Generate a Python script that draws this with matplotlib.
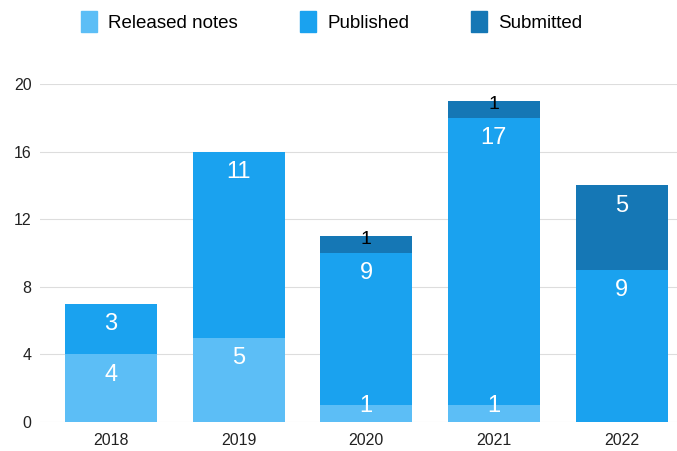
import numpy as np
import matplotlib.pyplot as plt
from matplotlib.patches import Patch

plt.rcParams['font.family'] = ['Liberation Sans', 'DejaVu Sans']

years = ['2018', '2019', '2020', '2021', '2022']
released = [4, 5, 1, 1, 0]
published = [3, 11, 9, 17, 9]
submitted = [0, 0, 1, 1, 5]

c_rel = '#5CBEF6'
c_pub = '#1AA2EF'
c_sub = '#1577B5'

fig = plt.figure(figsize=(6.77, 4.51), dpi=100)
ax = fig.add_axes([0.059, 0.064, 0.941, 0.75])

x = np.arange(len(years))
w = 0.72
ax.bar(x, released, w, color=c_rel, zorder=2)
ax.bar(x, published, w, bottom=released, color=c_pub, zorder=2)
bottom2 = np.array(released) + np.array(published)
ax.bar(x, submitted, w, bottom=bottom2, color=c_sub, zorder=2)

# value labels near the top of each segment
for i in range(len(years)):
    base = 0
    for vals in (released, published, submitted):
        v = vals[i]
        if v == 0:
            continue
        top = base + v
        if v >= 2:
            ax.text(x[i], top - 1.2, str(v), ha='center', va='center', color='white',
                    fontsize=17, zorder=3)
        elif vals is not submitted:
            ax.text(x[i], top - 0.05, str(v), ha='center', va='center', color='white',
                    fontsize=17, zorder=3)
        else:
            # too small: dark label on the edge
            ax.text(x[i], top - 0.2, str(v), ha='center', va='center', color='black',
                    fontsize=14, zorder=3)
        base = top

ax.set_ylim(0, 20)
ax.set_xlim(-0.556, 4.434)
ax.set_yticks([0, 4, 8, 12, 16, 20])
ax.set_xticks(x)
ax.set_xticklabels(years)
ax.tick_params(length=0, labelsize=11.5, colors='#222222')
ax.tick_params(axis='y', pad=6)
ax.tick_params(axis='x', pad=8)
ax.yaxis.grid(True, color='#dddddd', linewidth=0.8, zorder=0)
for s in ax.spines.values():
    s.set_visible(False)

handles = [Patch(color=c_rel, label='Released notes'),
           Patch(color=c_pub, label='Published'),
           Patch(color=c_sub, label='Submitted')]
fig.legend(handles=handles, loc='upper center', bbox_to_anchor=(0.49, 1.012), ncol=3,
           frameon=False, fontsize=13.5, handlelength=0.85, handleheight=1.3,
           columnspacing=3.3, handletextpad=0.6)

fig.savefig('out.png', dpi=100)
